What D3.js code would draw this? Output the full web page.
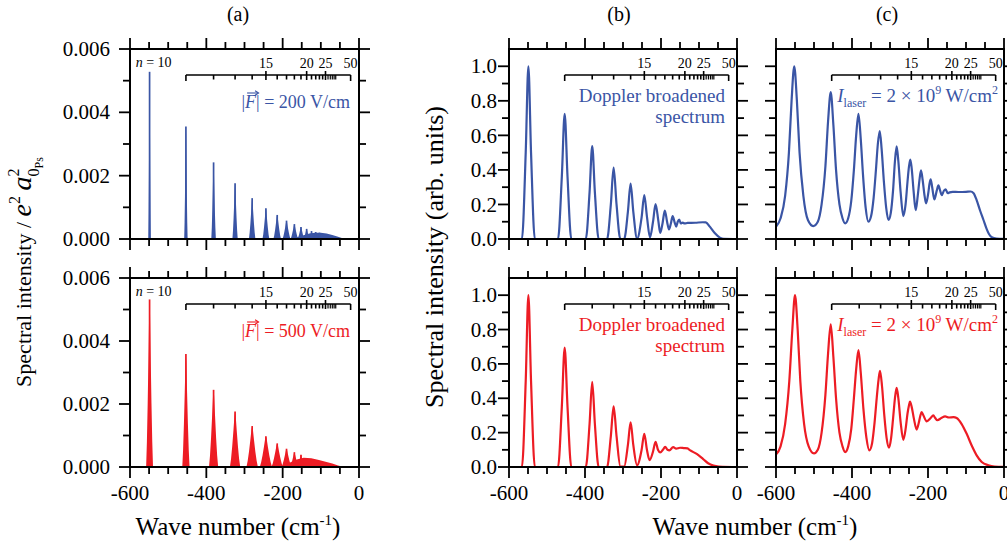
<!DOCTYPE html>
<html><head><meta charset="utf-8">
<script src="https://cdn.jsdelivr.net/npm/d3@7"></script>
<style>
body{margin:0;background:#fff}
svg{display:block}
text{font-family:"Liberation Serif","Times New Roman",serif;fill:#000}
</style>
</head><body>
<svg id="chart" width="1007" height="543"></svg>
<script>
// ---------------- data ----------------
const xMajorTicks = [-600, -400, -200, 0];
const xMinorTicks = [-550, -500, -450, -350, -300, -250, -150, -100, -50];
const yTicksA = [0, 0.002, 0.004, 0.006];
const yMinorA = [0.001, 0.003, 0.005];
const yTicksB = [0, 0.2, 0.4, 0.6, 0.8, 1.0];
const yMinorB = [0.1, 0.3, 0.5, 0.7, 0.9];
const nTicks = [11,12,13,14,15,16,17,18,19,20,21,22,23,24,25,26,27,28,29,30,50];
const nLabels = [15, 20, 25, 50];
const rydbergPs = 54868.6; // cm^-1, used for the upper n-scale

// (a) stick spectra: [wave number, peak intensity, half base width]
const sticks200 = [
  [-548.7,0.00528,3.2],[-453.5,0.00355,4.5],[-381.0,0.00242,6],[-324.7,0.00176,7],
  [-279.9,0.00129,8.5],[-243.9,0.00097,9],[-214.3,0.00076,10],[-189.9,0.00058,10.5],
  [-169.3,0.00047,10],[-152.0,0.00038,9],[-137.2,0.00032,8],[-124.4,0.00025,7],
  [-113.4,0.00022,6],[-103.7,0.0002,5]
];
const tail200 = [[-175,0],[-160,0.00006],[-145,0.00012],[-130,0.00017],[-115,0.0002],[-100,0.0002],
  [-85,0.00017],[-70,0.00013],[-57,0.00008],[-45,0.00003],[-36,0]];
const sticks500 = [
  [-548.7,0.00532,9],[-453.5,0.00359,9.5],[-381.0,0.00245,12],[-324.7,0.00176,13.5],
  [-279.9,0.0013,15],[-243.9,0.00098,16],[-214.3,0.00075,15],[-189.9,0.00058,13],
  [-169.3,0.00047,11],[-152.0,0.00039,9]
];
const tail500 = [[-200,0],[-190,0.00008],[-178,0.00016],[-163,0.00024],[-145,0.00029],[-125,0.00028],
  [-105,0.00022],[-85,0.00016],[-70,0.00011],[-55,0.00005],[-42,0.00001],[-38,0]];

// (b) Doppler broadened spectra [wave number, intensity]
const doppler200 = [
  [-600,0],[-566,0],[-556,0.5],[-549,1.0],[-542,0.5],[-532,0],
  [-471,0],[-461,0.36],[-453.5,0.725],[-446,0.36],[-436,0],
  [-398,0],[-388,0.27],[-381,0.538],[-374,0.27],[-364,0],
  [-342,0],[-332,0.2],[-324.7,0.413],[-317,0.2],[-307,0],
  [-297,0],[-287,0.16],[-280,0.321],[-273,0.16],[-263,0.003],
  [-251,0.125],[-244,0.254],[-237,0.13],[-229,0.01],
  [-221,0.1],[-214.3,0.202],[-207,0.105],[-202,0.035],
  [-196,0.09],[-190,0.165],[-184,0.1],[-179,0.055],
  [-174,0.09],[-169.3,0.133],[-164,0.095],[-160,0.072],
  [-156,0.1],[-152,0.112],[-148,0.09],[-143,0.095],[-138,0.09],[-130,0.093],
  [-110,0.094],[-90,0.097],[-82,0.096],[-71,0.07],[-58,0.033],[-45,0.008],[-35,0.001],[0,0]
];
const doppler500 = [
  [-600,0],[-566,0],[-556,0.5],[-549,1.0],[-542,0.5],[-532,0],
  [-471,0],[-461,0.35],[-453.5,0.695],[-446,0.35],[-436,0],
  [-398,0],[-388,0.25],[-381,0.496],[-374,0.25],[-364,0],
  [-342,0],[-332,0.18],[-324.7,0.353],[-317,0.18],[-307,0.003],
  [-297,0.002],[-287,0.13],[-280,0.26],[-273,0.13],[-263,0.01],
  [-251,0.1],[-244,0.193],[-237,0.1],[-230,0.04],
  [-221,0.09],[-214.3,0.147],[-208,0.1],[-202,0.085],
  [-195,0.1],[-189,0.118],[-183,0.1],[-178,0.097],
  [-168,0.116],[-160,0.107],[-150,0.112],[-140,0.11],[-130,0.108],[-124,0.098],
  [-106,0.076],[-89,0.046],[-76,0.022],[-62,0.008],[-48,0.002],[-38,0.001],[0,0]
];

// (c) laser-intensity broadened spectra [wave number, intensity]
const laser200 = [
  [-600,0.071],[-588,0.12],[-576,0.25],[-566,0.5],[-559,0.8],[-552,1.0],[-545,0.8],[-538,0.5],
  [-528,0.25],[-516,0.11],[-502,0.075],
  [-490,0.1],[-480,0.2],[-470,0.42],[-463,0.68],[-456,0.85],[-449,0.66],[-442,0.4],[-433,0.2],[-425,0.12],[-418,0.09],
  [-410,0.12],[-402,0.22],[-395,0.4],[-389,0.6],[-383,0.725],[-377,0.58],[-371,0.37],[-364,0.18],[-357,0.10],
  [-350,0.13],[-343,0.24],[-337,0.4],[-332,0.55],[-327,0.625],[-322,0.52],[-316,0.33],[-310,0.18],[-304,0.11],
  [-298,0.15],[-292,0.28],[-287,0.45],[-282.5,0.537],[-278,0.45],[-272,0.27],[-265,0.133],
  [-259,0.2],[-254,0.33],[-250,0.42],[-246.6,0.46],[-243,0.41],[-238,0.28],[-232.4,0.167],
  [-227,0.25],[-222,0.35],[-218.4,0.398],[-214,0.34],[-209,0.25],[-205,0.206],
  [-199,0.27],[-196,0.32],[-193,0.346],[-189,0.3],[-183.3,0.229],
  [-177,0.28],[-172.6,0.31],[-168,0.28],[-164,0.254],
  [-158,0.28],[-153.5,0.287],[-148,0.265],[-143,0.27],[-135,0.273],[-120,0.272],[-100,0.273],
  [-88,0.275],[-80,0.265],[-72,0.225],[-63,0.165],[-54,0.11],[-46,0.06],[-40,0.03],[-32,0.01],[-20,0.003],[0,0.001]
];
const laser500 = [
  [-600,0.073],[-588,0.12],[-576,0.25],[-565,0.5],[-557,0.8],[-550,1.0],[-543,0.8],[-536,0.5],
  [-526,0.25],[-514,0.12],[-500,0.079],
  [-490,0.1],[-480,0.2],[-470,0.42],[-463,0.66],[-456,0.83],[-449,0.64],[-442,0.4],[-433,0.2],[-425,0.12],[-418,0.087],
  [-410,0.12],[-402,0.22],[-395,0.4],[-389,0.57],[-383,0.68],[-377,0.55],[-370,0.34],[-362,0.17],[-354.5,0.097],
  [-347,0.14],[-341,0.25],[-335,0.4],[-330,0.51],[-326.3,0.56],[-321,0.47],[-315,0.3],[-309,0.17],[-302.6,0.112],
  [-297,0.17],[-292,0.28],[-287,0.4],[-282.5,0.46],[-278,0.4],[-272,0.26],[-265,0.158],
  [-259,0.22],[-254,0.31],[-250,0.36],[-247.4,0.38],[-243,0.35],[-237,0.28],[-229.8,0.218],
  [-224,0.26],[-220,0.3],[-216.7,0.319],[-212,0.3],[-203.5,0.266],
  [-193,0.285],[-186,0.30],[-181,0.285],[-175.5,0.272],
  [-165,0.285],[-155,0.295],[-145,0.288],[-133,0.29],[-124.5,0.285],[-111.4,0.25],[-98.2,0.193],
  [-85,0.125],[-72,0.068],[-58.6,0.029],[-41,0.01],[-25,0.003],[0,0.001]
];

// ---------------- drawing ----------------
const BLUE = '#3a55a5', RED = '#ed1c24';
const svg = d3.select('#chart');

const cols = {a:[130,359], b:[509,737], c:[776,1004]};
const rows = {top:[49,239], bot:[278,467]};

function makePanel(col, row, yDomain) {
  const [x0,x1] = cols[col], [y0,y1] = rows[row];
  const x = d3.scaleLinear().domain([-600,0]).range([x0,x1]);
  const y = d3.scaleLinear().domain(yDomain).range([y1,y0]);
  const g = svg.append('g');
  const clipId = 'clip'+col+row;
  svg.append('clipPath').attr('id',clipId).append('rect')
    .attr('x',x0).attr('y',y0).attr('width',x1-x0).attr('height',y1-y0);
  const plot = g.append('g').attr('clip-path',`url(#${clipId})`);
  return {x,y,g,plot,x0,x1,y0,y1};
}

function drawFrame(p, yMajor, yMinor, showYLabels, yFmt, yLabelGap, showXLabels) {
  const {x,y,g,x0,x1,y0,y1} = p;
  const tk = g.append('g').attr('stroke','#000').attr('stroke-width',1.8);
  const MJ = 11, MN = 7;
  xMajorTicks.forEach(v => {
    tk.append('line').attr('x1',x(v)).attr('x2',x(v)).attr('y1',y1).attr('y2',y1+MJ);
    tk.append('line').attr('x1',x(v)).attr('x2',x(v)).attr('y1',y0).attr('y2',y0-MJ);
  });
  xMinorTicks.forEach(v => {
    tk.append('line').attr('x1',x(v)).attr('x2',x(v)).attr('y1',y1).attr('y2',y1+MN);
    tk.append('line').attr('x1',x(v)).attr('x2',x(v)).attr('y1',y0).attr('y2',y0-MN);
  });
  yMajor.forEach(v => {
    tk.append('line').attr('y1',y(v)).attr('y2',y(v)).attr('x1',x0).attr('x2',x0-MJ);
    tk.append('line').attr('y1',y(v)).attr('y2',y(v)).attr('x1',x1).attr('x2',x1+MJ);
  });
  yMinor.forEach(v => {
    tk.append('line').attr('y1',y(v)).attr('y2',y(v)).attr('x1',x0).attr('x2',x0-MN);
    tk.append('line').attr('y1',y(v)).attr('y2',y(v)).attr('x1',x1).attr('x2',x1+MN);
  });
  g.append('rect').attr('x',x0).attr('y',y0).attr('width',x1-x0).attr('height',y1-y0)
    .attr('fill','none').attr('stroke','#000').attr('stroke-width',2);
  if (showYLabels) {
    yMajor.forEach(v => {
      g.append('text').attr('x',x0-yLabelGap).attr('y',y(v)).attr('dy','0.34em')
        .attr('text-anchor','end').attr('font-size',21).text(d3.format(yFmt)(v));
    });
  }
  if (showXLabels) {
    xMajorTicks.forEach(v => {
      g.append('text').attr('x',x(v)).attr('y',y1+33).attr('text-anchor','middle')
        .attr('font-size',21).text(String(v));
    });
  }
}

function drawNScale(p, showN10) {
  const {x,g,y0} = p;
  const wn = n => -rydbergPs/(n*n);
  const yl = y0 + 26;
  const s = g.append('g').attr('stroke','#000').attr('stroke-width',1.6);
  s.append('line').attr('x1',x(wn(11))).attr('x2',x(wn(50))).attr('y1',yl).attr('y2',yl);
  nTicks.forEach(n => {
    const xx = x(wn(n));
    if (n === 11 || n === 50) s.append('line').attr('x1',xx).attr('x2',xx).attr('y1',yl).attr('y2',yl+6);
    else if (nLabels.includes(n)) s.append('line').attr('x1',xx).attr('x2',xx).attr('y1',yl-4).attr('y2',yl+5);
    else s.append('line').attr('x1',xx).attr('x2',xx).attr('y1',yl).attr('y2',yl+4.5)
      .attr('stroke-width', n > 24 ? 1.2 : 1.6);
  });
  nLabels.forEach(n => {
    g.append('text').attr('x',x(wn(n))).attr('y',yl-7).attr('text-anchor','middle')
      .attr('font-size',14).text(String(n));
  });
  if (showN10) {
    const t = g.append('text').attr('x',x(wn(10))+4).attr('y',yl-8).attr('text-anchor','middle').attr('font-size',14);
    t.append('tspan').attr('font-style','italic').text('n');
    t.append('tspan').text(' = 10');
  }
}

function drawSticks(p, sticks, tail, color) {
  const {x,y,plot} = p;
  const area = d3.area().x(d=>x(d[0])).y0(y(0)).y1(d=>y(d[1]));
  plot.append('path').datum(tail).attr('d',area).attr('fill',color);
  sticks.forEach(([c,h,w]) => {
    const shape = [[c-w,0],[c-0.78*w,0.15*h],[c-0.55*w,0.38*h],[c-0.32*w,0.66*h],[c-0.12*w,0.92*h],[c,h],
                   [c+0.12*w,0.92*h],[c+0.32*w,0.66*h],[c+0.55*w,0.38*h],[c+0.78*w,0.15*h],[c+w,0]];
    plot.append('path').datum(shape).attr('d',area).attr('fill',color);
    plot.append('line').attr('x1',x(c)).attr('x2',x(c)).attr('y1',y(0)).attr('y2',y(h))
      .attr('stroke',color).attr('stroke-width',1.7);
  });
}

function drawCurve(p, data, color) {
  const {x,y,plot} = p;
  const line = d3.line().x(d=>x(d[0])).y(d=>y(d[1])).curve(d3.curveMonotoneX);
  plot.append('path').datum(data).attr('d',line).attr('fill','none')
    .attr('stroke',color).attr('stroke-width',2.2).attr('stroke-linejoin','round');
}

function fieldLabel(p, text, color) {
  const t = p.g.append('text').attr('x',p.x1-9).attr('y',p.y0+59).attr('text-anchor','end')
    .attr('font-size',18).style('fill',color);
  t.append('tspan').text('|');
  t.append('tspan').attr('font-style','italic').text('F');
  t.append('tspan').text('| = ' + text);
  const node = t.node();
  const s = node.getStartPositionOfChar(1), e = node.getEndPositionOfChar(1);
  const ay = p.y0 + 59 - 15, ax0 = s.x + 2, ax1 = e.x + 2;
  p.g.append('line').attr('x1',ax0).attr('x2',ax1).attr('y1',ay).attr('y2',ay).attr('stroke',color).attr('stroke-width',1.1);
  p.g.append('path').attr('d',`M${ax1-3},${ay-2.2}L${ax1+0.5},${ay}L${ax1-3},${ay+2.2}`).attr('fill','none').attr('stroke',color).attr('stroke-width',1.1);
}

function dopplerLabel(p, color) {
  p.g.append('text').attr('x',p.x1-12).attr('y',p.y0+53).attr('text-anchor','end')
    .attr('font-size',19).style('fill',color).text('Doppler broadened');
  p.g.append('text').attr('x',p.x1-12).attr('y',p.y0+74).attr('text-anchor','end')
    .attr('font-size',19).style('fill',color).text('spectrum');
}

function laserLabel(p, color) {
  const t = p.g.append('text').attr('x',p.x1-6).attr('y',p.y0+53).attr('text-anchor','end')
    .attr('font-size',19).style('fill',color);
  t.append('tspan').attr('font-style','italic').text('I');
  t.append('tspan').attr('font-size',12).attr('dy',5).text('laser');
  t.append('tspan').attr('dy',-5).text(' = 2 \u00d7 10');
  t.append('tspan').attr('font-size',12).attr('dy',-8).text('9');
  t.append('tspan').attr('dy',8).text(' W/cm');
  t.append('tspan').attr('font-size',12).attr('dy',-8).text('2');
}

// panel (a)
const pa1 = makePanel('a','top',[0,0.006]);
drawSticks(pa1, sticks200, tail200, BLUE);
drawFrame(pa1, yTicksA, yMinorA, true, '.3f', 20, false);
drawNScale(pa1, true);
fieldLabel(pa1, '200 V/cm', BLUE);

const pa2 = makePanel('a','bot',[0,0.006]);
drawSticks(pa2, sticks500, tail500, RED);
drawFrame(pa2, yTicksA, yMinorA, true, '.3f', 20, true);
drawNScale(pa2, true);
fieldLabel(pa2, '500 V/cm', RED);

// panel (b)
const pb1 = makePanel('b','top',[0,1.1]);
drawCurve(pb1, doppler200, BLUE);
drawFrame(pb1, yTicksB, yMinorB, true, '.1f', 12, false);
drawNScale(pb1, false);
dopplerLabel(pb1, BLUE);

const pb2 = makePanel('b','bot',[0,1.1]);
drawCurve(pb2, doppler500, RED);
drawFrame(pb2, yTicksB, yMinorB, true, '.1f', 12, true);
drawNScale(pb2, false);
dopplerLabel(pb2, RED);

// panel (c)
const pc1 = makePanel('c','top',[0,1.1]);
drawCurve(pc1, laser200, BLUE);
drawFrame(pc1, yTicksB, yMinorB, false, '.1f', 12, false);
drawNScale(pc1, false);
laserLabel(pc1, BLUE);

const pc2 = makePanel('c','bot',[0,1.1]);
drawCurve(pc2, laser500, RED);
drawFrame(pc2, yTicksB, yMinorB, false, '.1f', 12, true);
drawNScale(pc2, false);
laserLabel(pc2, RED);

// panel letters
[['(a)',238],['(b)',619],['(c)',887]].forEach(([t,xx]) => {
  svg.append('text').attr('x',xx).attr('y',21).attr('text-anchor','middle').attr('font-size',20).text(t);
});

// x titles
function xTitle(cx) {
  const t = svg.append('text').attr('x',cx).attr('y',535).attr('text-anchor','middle').attr('font-size',25);
  t.append('tspan').text('Wave number (cm');
  t.append('tspan').attr('font-size',15).attr('dy',-10).text('-1');
  t.append('tspan').attr('dy',10).text(')');
}
xTitle(238);
xTitle(755);

// y title (a)
{
  const t = svg.append('text').attr('transform','translate(31,272) rotate(-90)')
    .attr('text-anchor','middle').attr('font-size',22);
  t.append('tspan').text('Spectral intensity / ');
  t.append('tspan').attr('font-style','italic').attr('font-size',28).text('e');
  t.append('tspan').attr('font-size',16).attr('dy',-11).text('2');
  t.append('tspan').attr('dy',11).text(' ');
  t.append('tspan').attr('font-style','italic').attr('font-size',28).text('a');
  t.append('tspan').attr('font-size',16).attr('dy',-12).text('2');
  t.append('tspan').attr('font-size',16).attr('dx',-8).attr('dy',20).text('0');
  t.append('tspan').attr('font-size',12).attr('dy',4).text('Ps');
}
// y title (b)
svg.append('text').attr('transform','translate(443,257) rotate(-90)')
  .attr('text-anchor','middle').attr('font-size',26).text('Spectral intensity (arb. units)');
</script>
</body></html>
